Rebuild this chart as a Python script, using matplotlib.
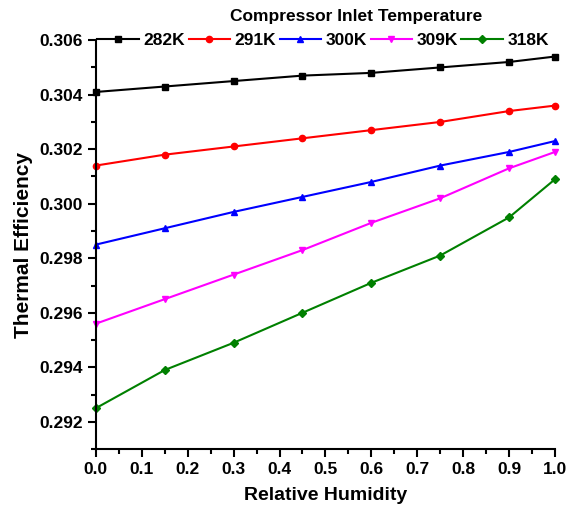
import matplotlib
matplotlib.use("Agg")
import matplotlib.pyplot as plt
from matplotlib.ticker import MultipleLocator, FormatStrFormatter

humidity = [0.0, 0.15, 0.3, 0.45, 0.6, 0.75, 0.9, 1.0]
labels = ["282K", "291K", "300K", "309K", "318K"]
eff_282 = [0.3041, 0.3043, 0.3045, 0.3047, 0.3048, 0.3050, 0.3052, 0.3054]
eff_291 = [0.3014, 0.3018, 0.3021, 0.3024, 0.3027, 0.3030, 0.3034, 0.3036]
eff_300 = [0.2985, 0.2991, 0.2997, 0.30025, 0.3008, 0.3014, 0.3019, 0.3023]
eff_309 = [0.2956, 0.2965, 0.2974, 0.2983, 0.2993, 0.3002, 0.3013, 0.3019]
eff_318 = [0.2925, 0.2939, 0.2949, 0.2960, 0.2971, 0.2981, 0.2995, 0.3009]
series = [eff_282, eff_291, eff_300, eff_309, eff_318]
colors = ["black", "red", "blue", "magenta", "green"]
markers = ["s", "o", "^", "v", "D"]
legend_title = "Compressor Inlet Temperature"

plt.rcParams['font.family'] = ['Liberation Sans', 'DejaVu Sans']
plt.rcParams['font.weight'] = 'bold'

fig = plt.figure(figsize=(5.74, 5.15), dpi=100)
ax = fig.add_axes([0.167, 0.128, 0.800, 0.794])

for y, c, m, lab in zip(series, colors, markers, labels):
    ax.plot(humidity, y, color=c, marker=m, markersize=4.5, linewidth=1.5, label=lab, clip_on=False)

ax.set_xlim(0, 1.0)
ax.set_ylim(0.291, 0.306)
ax.xaxis.set_major_locator(MultipleLocator(0.1))
ax.xaxis.set_minor_locator(MultipleLocator(0.05))
ax.yaxis.set_minor_locator(MultipleLocator(0.001))
ax.xaxis.set_major_formatter(FormatStrFormatter('%.1f'))
ax.yaxis.set_major_formatter(FormatStrFormatter('%.3f'))
ax.set_yticks([0.292, 0.294, 0.296, 0.298, 0.300, 0.302, 0.304, 0.306])

for s in ['top', 'right']:
    ax.spines[s].set_visible(False)
for s in ['left', 'bottom']:
    ax.spines[s].set_linewidth(1.5)

ax.tick_params(axis='both', which='major', direction='out', length=6, width=1.5, labelsize=12.5)
ax.tick_params(axis='both', which='minor', direction='out', length=3.5, width=1.5)

ax.set_xlabel("Relative Humidity", fontsize=14, fontweight='bold', labelpad=7)
ax.set_ylabel("Thermal Efficiency", fontsize=15, fontweight='bold', labelpad=4)

leg = ax.legend(ncol=5, loc='center', bbox_to_anchor=(0.495, 1.0), frameon=False,
                fontsize=12.5, handlelength=2.4, columnspacing=0.2, handletextpad=0.25,
                borderpad=0.1, borderaxespad=0)
fig.text(356 / 574, 1 - 16 / 515, legend_title, ha='center', va='center',
         fontsize=12.5, fontweight='bold')

fig.savefig("out.png", dpi=100)
